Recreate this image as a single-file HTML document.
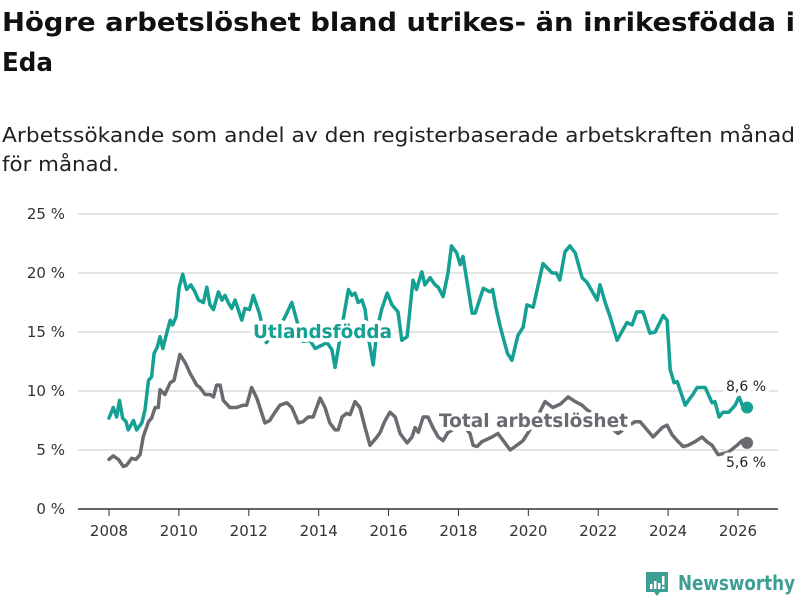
<!DOCTYPE html>
<html><head><meta charset="utf-8">
<style>
body{margin:0;background:#fff;}
#wrap{position:relative;width:800px;height:600px;overflow:hidden;}
svg text{font-family:"DejaVu Sans","Liberation Sans",sans-serif;}
</style></head><body>
<div id="wrap">
<svg id="chart" width="800" height="600" style="position:absolute;left:0;top:0">
<text x="2" y="31" font-size="26" font-weight="bold" fill="#111" textLength="793" lengthAdjust="spacingAndGlyphs">Högre arbetslöshet bland utrikes- än inrikesfödda i</text>
<text x="2" y="71" font-size="26" font-weight="bold" fill="#111" textLength="51" lengthAdjust="spacingAndGlyphs">Eda</text>
<text x="2" y="142" font-size="20" fill="#222" textLength="793" lengthAdjust="spacingAndGlyphs">Arbetssökande som andel av den registerbaserade arbetskraften månad</text>
<text x="2" y="171" font-size="20" fill="#222" textLength="117" lengthAdjust="spacingAndGlyphs">för månad.</text>
</svg>
</div>
<script>
const yTicks=[0,5,10,15,20,25];
const xTicks=[2008,2010,2012,2014,2016,2018,2020,2022,2024,2026];
const foreignT=[2008.0,2008.12,2008.22,2008.3,2008.39,2008.49,2008.55,2008.7,2008.79,2008.94,2009.03,2009.13,2009.22,2009.29,2009.38,2009.46,2009.54,2009.65,2009.75,2009.82,2009.92,2010.01,2010.11,2010.22,2010.34,2010.46,2010.56,2010.7,2010.8,2010.89,2010.99,2011.13,2011.23,2011.32,2011.41,2011.51,2011.61,2011.8,2011.89,2012.02,2012.13,2012.3,2012.5,2012.7,2012.9,2013.04,2013.23,2013.37,2013.55,2013.75,2013.9,2014.24,2014.38,2014.47,2014.6,2014.85,2014.95,2015.04,2015.13,2015.24,2015.33,2015.42,2015.56,2015.67,2015.8,2015.96,2016.1,2016.27,2016.38,2016.53,2016.7,2016.8,2016.95,2017.04,2017.19,2017.33,2017.42,2017.56,2017.7,2017.8,2017.95,2018.05,2018.13,2018.24,2018.39,2018.48,2018.71,2018.9,2018.98,2019.07,2019.2,2019.4,2019.53,2019.7,2019.85,2019.96,2020.14,2020.42,2020.68,2020.8,2020.9,2021.05,2021.19,2021.34,2021.54,2021.68,2021.97,2022.05,2022.2,2022.34,2022.54,2022.82,2022.97,2023.1,2023.28,2023.48,2023.63,2023.86,2023.97,2024.06,2024.17,2024.26,2024.49,2024.63,2024.71,2024.83,2024.97,2025.06,2025.26,2025.34,2025.46,2025.57,2025.74,2025.92,2026.03,2026.15,2026.26];
const foreignV=[7.7,8.6,7.8,9.2,7.7,7.4,6.7,7.5,6.7,7.3,8.4,10.9,11.2,13.2,13.7,14.6,13.6,14.9,16.0,15.6,16.3,18.8,19.9,18.6,19.0,18.4,17.7,17.5,18.8,17.3,16.9,18.4,17.7,18.1,17.5,17.0,17.7,16.0,17.0,16.9,18.1,16.6,14.1,14.8,15.5,16.3,17.5,16.0,14.2,14.3,13.6,14.1,13.5,12.0,14.3,18.6,18.1,18.3,17.5,17.7,16.9,14.6,12.2,15.2,16.9,18.3,17.3,16.7,14.3,14.6,19.4,18.6,20.1,19.0,19.6,19.0,18.8,18.0,20.0,22.3,21.7,20.7,21.4,19.4,16.6,16.6,18.7,18.4,18.6,17.1,15.4,13.2,12.6,14.7,15.4,17.3,17.1,20.8,20.0,20.0,19.4,21.8,22.3,21.7,19.6,19.2,17.7,19.0,17.5,16.3,14.3,15.8,15.6,16.7,16.7,14.9,15.0,16.4,16.0,11.8,10.7,10.8,8.8,9.4,9.7,10.3,10.3,10.3,9.0,9.1,7.8,8.2,8.2,8.8,9.5,8.6,8.6];
const totalT=[2008.0,2008.12,2008.27,2008.41,2008.5,2008.65,2008.77,2008.89,2008.98,2009.13,2009.22,2009.32,2009.41,2009.46,2009.6,2009.75,2009.86,2010.03,2010.18,2010.32,2010.51,2010.6,2010.75,2010.89,2010.99,2011.08,2011.18,2011.27,2011.46,2011.65,2011.84,2011.94,2012.08,2012.23,2012.46,2012.6,2012.75,2012.89,2013.09,2013.23,2013.42,2013.55,2013.7,2013.84,2014.04,2014.18,2014.32,2014.47,2014.56,2014.67,2014.8,2014.9,2015.04,2015.18,2015.33,2015.47,2015.67,2015.76,2015.9,2016.04,2016.19,2016.33,2016.53,2016.67,2016.76,2016.85,2016.99,2017.13,2017.27,2017.42,2017.56,2017.7,2017.95,2018.15,2018.33,2018.42,2018.53,2018.67,2018.96,2019.13,2019.28,2019.48,2019.67,2019.85,2020.0,2020.2,2020.48,2020.7,2020.92,2021.14,2021.34,2021.54,2021.68,2021.9,2022.1,2022.3,2022.57,2022.8,2023.05,2023.2,2023.4,2023.57,2023.83,2023.97,2024.11,2024.26,2024.43,2024.57,2024.77,2024.97,2025.11,2025.26,2025.43,2025.72,2025.97,2026.12,2026.26];
const totalV=[4.2,4.5,4.2,3.6,3.7,4.3,4.2,4.6,6.1,7.4,7.7,8.6,8.6,10.1,9.7,10.7,10.9,13.1,12.4,11.5,10.5,10.3,9.7,9.7,9.5,10.5,10.5,9.2,8.6,8.6,8.8,8.8,10.3,9.4,7.3,7.5,8.2,8.8,9.0,8.6,7.3,7.4,7.8,7.8,9.4,8.6,7.3,6.7,6.7,7.8,8.1,8.0,9.1,8.6,6.9,5.4,6.1,6.5,7.5,8.2,7.8,6.4,5.6,6.1,6.9,6.5,7.8,7.8,6.9,6.1,5.8,6.5,6.9,7.0,6.4,5.4,5.3,5.7,6.1,6.4,5.8,5.0,5.4,5.8,6.5,7.5,9.1,8.6,8.9,9.5,9.1,8.8,8.4,8.0,7.6,7.0,6.4,6.9,7.4,7.4,6.7,6.1,6.9,7.1,6.3,5.8,5.3,5.4,5.7,6.1,5.7,5.4,4.6,4.8,5.4,5.8,5.6];

const X0=2008,X1=2026,PX0=109,PX1=738,PY0=509,PY25=214;
const sx=v=>PX0+(v-X0)*(PX1-PX0)/(X1-X0);
const sy=v=>PY0+(v)*(PY25-PY0)/25;
const NS='http://www.w3.org/2000/svg';
const svg=document.getElementById('chart');
function mk(tag,attrs,parent){const e=document.createElementNS(NS,tag);for(const k in attrs)e.setAttribute(k,attrs[k]);(parent||svg).appendChild(e);return e;}

yTicks.forEach(t=>{
  const l=mk('line',{x1:78,x2:778,y1:sy(t),y2:sy(t),stroke:t===0?'#333':'#dcdcdc','stroke-width':1.5});
  
  
  const tx=mk('text',{x:65,y:sy(t)+5,'text-anchor':'end','font-size':15,fill:'#333'});
  tx.textContent=t+' %';
  
  
});
xTicks.forEach(t=>{
  const l=mk('line',{x1:sx(t),x2:sx(t),y1:509,y2:516,stroke:'#333','stroke-width':1});
  
  
  const tx=mk('text',{x:sx(t),y:536,'text-anchor':'middle','font-size':15,fill:'#333'});
  tx.textContent=t;
  
  
});

function series(T,V,color,name){
  const d=T.map((t,i)=>(i?'L':'M')+sx(t).toFixed(1)+','+sy(V[i]).toFixed(1)).join('');
  const p=mk('path',{d:d,fill:'none',stroke:color,'stroke-width':3.5,'stroke-linejoin':'round','stroke-linecap':'round'});
  
  
  const n=T.length-1;
  const c=mk('circle',{cx:sx(T[n]),cy:sy(V[n]),r:6,fill:color});
  
  
}
series(totalT,totalV,'#6b6a70','total');
series(foreignT,foreignV,'#14a092','foreign');

function label(x,y,txt,color,size,weight,anchor,name,len){
  const a={x:x,y:y,'font-size':size,'font-weight':weight,fill:color,stroke:'#fff','stroke-width':8,'paint-order':'stroke','stroke-linejoin':'round','text-anchor':anchor};
  if(len){a.textLength=len;a.lengthAdjust='spacingAndGlyphs';}
  const t=mk('text',a);
  t.textContent=txt;
  
  
}
label(253,338,'Utlandsfödda','#14a092',19,'bold','start','foreign-series-label',139);
label(439,427,'Total arbetslöshet','#6b6a70',19,'bold','start','total-series-label',189);
label(746,391,'8,6 %','#222',14,'normal','middle','foreign-end-value');
label(746,467,'5,6 %','#222',14,'normal','middle','total-end-value');

const g=mk('g',{});


mk('path',{d:'M646,572 h22 v20 h-8 l-3,4 l-3,-4 h-8 z',fill:'#3d9e94'},g);
mk('rect',{x:650,y:584,width:2.5,height:5,fill:'#fff'},g);
mk('rect',{x:654,y:581,width:2.5,height:8,fill:'#fff'},g);
mk('rect',{x:658,y:583,width:2.5,height:6,fill:'#fff'},g);
mk('rect',{x:662,y:576,width:2.5,height:9,fill:'#fff'},g);
mk('rect',{x:662,y:586.5,width:2.5,height:2.5,fill:'#fff'},g);
const lt=mk('text',{x:678,y:590,'font-size':20,'font-weight':'bold',fill:'#3d9e94',textLength:117,lengthAdjust:'spacingAndGlyphs'},g);
lt.textContent='Newsworthy';


</script>
</body></html>
